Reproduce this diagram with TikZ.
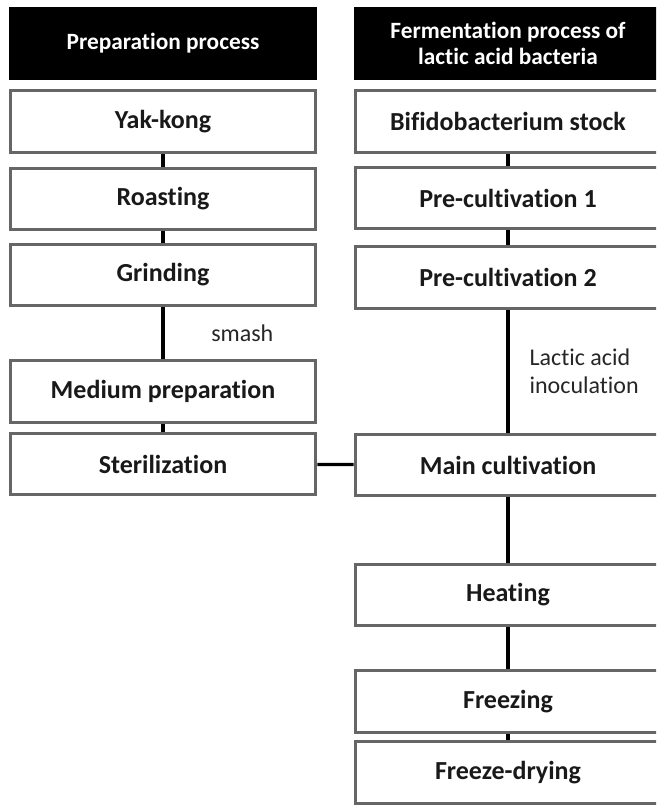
\documentclass[tikz,border=0pt]{standalone}
\usepackage{fontspec}
\setmainfont{Carlito}[Ligatures=NoCommon]
\usepackage{tikz}
\usetikzlibrary{calc,positioning}
\usepackage{xcolor}
\definecolor{boxgray}{HTML}{666666}

\begin{document}
\begin{tikzpicture}[x=0.75pt, y=-0.75pt]
      \tikzset{
	  head/.style={rectangle, fill=black, text=white, inner sep=0pt, minimum width=231pt, minimum height=55pt, align=center, font=\bfseries\fontsize{17.5}{20}\selectfont},
	  stage/.style={rectangle, draw=boxgray, line width=2.4pt, fill=white, text=black!90, inner sep=0pt, minimum width=229pt, minimum height=46pt, font=\bfseries\fontsize{19.5}{22}\selectfont},
	  link/.style={black, line width=2.4pt},
	  note/.style={text=black!85, inner sep=0pt, align=left, font=\fontsize{18}{21}\selectfont},
      }
      \clip (0,0) rectangle (656,805);
      \useasboundingbox (0,0) rectangle (656,805);

      % preparation process
      \node (hl) at (163,43.5) [head] {Preparation process};
      \node (yak) at (163,121.5) [stage] {Yak-kong};
      \node (roast) at (163,199) [stage] {Roasting};
      \node (grind) at (163,275) [stage] {Grinding};
      \node (medium) at (163,391.5) [stage] {Medium preparation};
      \node (steril) at (163,464) [stage] {Sterilization};

      % fermentation process
      \node (hr) at (508,43.5) [head] {Fermentation process of\\lactic acid bacteria};
      \node (bifido) at (508,121.5) [stage] {Bifidobacterium stock};
      \node (pre1) at (508,198) [stage] {Pre-cultivation 1};
      \node (pre2) at (508,277.5) [stage] {Pre-cultivation 2};
      \node (main) at (508,465) [stage] {Main cultivation};
      \node (heat) at (508,595) [stage] {Heating};
      \node (freeze) at (508,701.5) [stage] {Freezing};
      \node (dry) at (508,772.5) [stage] {Freeze-drying};

      \draw [link] (yak) -- (roast);
      \draw [link] (roast) -- (grind);
      \draw [link] (grind) -- node (smash) [note, right=35pt] {smash} (medium);
      \draw [link] (medium) -- (steril);
      \draw [link] (steril) -- (main);

      \draw [link] (bifido) -- (pre1);
      \draw [link] (pre1) -- (pre2);
      \draw [link] (pre2) -- node (inoc) [note, right=15pt] {Lactic acid\\inoculation} (main);
      \draw [link] (main) -- (heat);
      \draw [link] (heat) -- (freeze);
      \draw [link] (freeze) -- (dry);
    \end{tikzpicture}
\end{document}
